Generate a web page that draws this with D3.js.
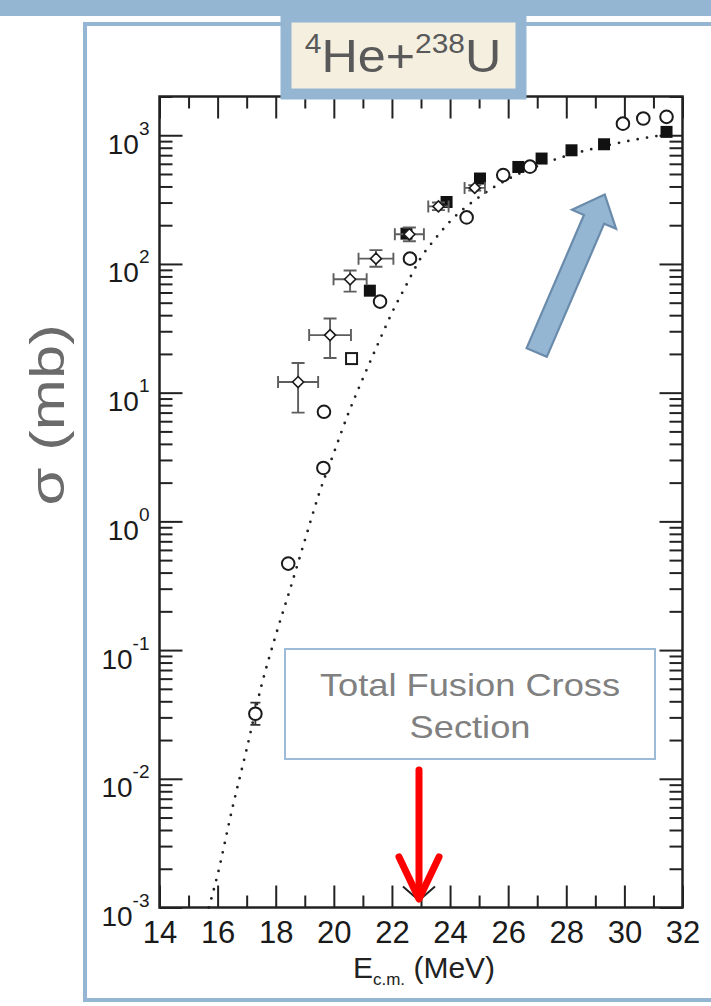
<!DOCTYPE html>
<html lang="en">
  <head>
    <title>4He+238U total fusion cross section</title>
    <meta charset="utf-8">
    <script src="https://cdn.jsdelivr.net/npm/d3@7"></script>
    <style>
      html, body { margin: 0; padding: 0; background: #fff; }
      svg text { font-family: "Liberation Sans", Arimo, Arial, Helvetica, sans-serif; }
    </style>
  </head>
  <body>
    <div id="main"></div>
    <script>
      // axis ticks
      var xTicks = [14, 16, 18, 20, 22, 24, 26, 28, 30, 32];
      var xMinorTicks = [15, 17, 19, 21, 23, 25, 27, 29, 31];
      var yExponents = [-3, -2, -1, 0, 1, 2, 3];

      // dotted theory curve (E in MeV, sigma in mb)
      var curveE = [15.7, 16.0, 16.5, 17.0, 17.5, 18.0, 18.5, 19.0, 19.5, 20.0, 20.5, 21.0, 21.5, 22.0, 22.5, 23.0, 23.5, 24.0, 25.0, 26.0, 27.0, 28.0, 29.0, 30.0, 31.0, 31.6];
      var curveSigma = [0.001, 0.0018, 0.0058, 0.017, 0.052, 0.13, 0.30, 0.71, 1.66, 3.4, 6.9, 12.9, 23.4, 41.7, 69, 112, 158, 214, 331, 457, 575, 692, 794, 891, 977, 1023];

      // open circles
      var circleE = [17.3, 18.43, 19.64, 19.66, 21.59, 22.62, 24.57, 25.83, 26.75, 29.95, 30.65, 31.45];
      var circleSigma = [0.032, 0.47, 2.6, 7.1, 51, 110, 230, 490, 570, 1230, 1350, 1390];

      // filled squares
      var squareE = [21.24, 22.5, 23.88, 25.03, 26.35, 27.15, 28.18, 29.3, 31.45];
      var squareSigma = [62, 172, 303, 461, 567, 659, 764, 851, 1062];

      // open squares
      var openSquareE = [20.61];
      var openSquareSigma = [18.4];

      // open diamonds with error bars
      var diamondE = [18.77, 19.87, 20.56, 21.45, 22.6, 23.6, 24.85];
      var diamondSigma = [12.1, 28, 76, 110, 170, 280, 390];
      var diamondErrE = [0.69, 0.72, 0.57, 0.6, 0.5, 0.35, 0.35];
      var diamondLow = [7.0, 18.6, 61, 95, 150, 262, 372];
      var diamondHigh = [17, 37.7, 89, 128, 192, 300, 410];

      var font = "'Liberation Sans', Arimo, Arial, Helvetica, sans-serif";
      var svg = d3.select("#main").append("svg")
        .attr("width", 711)
        .attr("height", 1006)
        .attr("font-family", font);

      // slide decoration
      svg.append("rect").attr("x", 0).attr("y", 0).attr("width", 711).attr("height", 16).attr("fill", "#94b6d2");
      svg.append("rect").attr("x", 85).attr("y", 24).attr("width", 660).attr("height", 976)
        .attr("fill", "none").attr("stroke", "#94b6d2").attr("stroke-width", 4);

      var x = d3.scaleLinear().domain([14, 32]).range([159.5, 682.5]);
      var y = d3.scaleLog().domain([1e-3, 2e3]).range([907.5, 96.5]);

      var plot = svg.append("g");
      var yMinor = y.ticks().filter(function(d) { return Math.abs(Math.log10(d) - Math.round(Math.log10(d))) > 1e-6; });
      var yMajor = yExponents.map(function(e) { return Math.pow(10, e); });

      function styleAxis(g) {
        g.select(".domain").remove();
        g.selectAll(".tick line").attr("stroke", "#222").attr("stroke-width", 2);
        g.attr("font-family", font).attr("font-size", null);
      }

      plot.append("g").attr("transform", "translate(0,907.5)")
        .call(d3.axisBottom(x).tickValues(xTicks).tickSize(-22).tickPadding(13))
        .call(styleAxis)
        .selectAll(".tick text").attr("font-size", 31).attr("fill", "#1a1a1a");
      plot.append("g").attr("transform", "translate(0,907.5)")
        .call(d3.axisBottom(x).tickValues(xMinorTicks).tickSize(-12).tickFormat(""))
        .call(styleAxis);
      plot.append("g").attr("transform", "translate(0,96.5)")
        .call(d3.axisTop(x).tickValues(xTicks).tickSize(-22).tickFormat(""))
        .call(styleAxis);
      plot.append("g").attr("transform", "translate(0,96.5)")
        .call(d3.axisTop(x).tickValues(xMinorTicks).tickSize(-12).tickFormat(""))
        .call(styleAxis);

      var yLeft = plot.append("g").attr("transform", "translate(159.5,0)")
        .call(d3.axisLeft(y).tickValues(yMajor).tickSize(-23).tickPadding(10))
        .call(styleAxis);
      plot.append("g").attr("transform", "translate(159.5,0)")
        .call(d3.axisLeft(y).tickValues(yMinor).tickSize(-13).tickFormat(""))
        .call(styleAxis);
      plot.append("g").attr("transform", "translate(682.5,0)")
        .call(d3.axisRight(y).tickValues(yMajor).tickSize(-23).tickFormat(""))
        .call(styleAxis);
      plot.append("g").attr("transform", "translate(682.5,0)")
        .call(d3.axisRight(y).tickValues(yMinor).tickSize(-13).tickFormat(""))
        .call(styleAxis);

      yLeft.selectAll(".tick text").each(function(d) {
        var t = d3.select(this);
        t.text(null).attr("dy", null).attr("y", 18).attr("font-size", 28).attr("fill", "#1a1a1a");
        t.append("tspan").text("10");
        t.append("tspan").attr("dy", -19).attr("font-size", 19).text(String(Math.round(Math.log10(d))));
      });

      plot.append("rect")
        .attr("x", x(14)).attr("y", y(2e3))
        .attr("width", x(32) - x(14)).attr("height", y(1e-3) - y(2e3))
        .attr("fill", "none").attr("stroke", "#222").attr("stroke-width", 2.5);

      // axis titles
      var xt = svg.append("text").attr("x", 424).attr("y", 978).attr("text-anchor", "middle")
        .attr("font-size", 30).attr("fill", "#222");
      xt.append("tspan").text("E");
      xt.append("tspan").attr("font-size", 17).attr("dy", 7).text("c.m.");
      xt.append("tspan").attr("dy", -7).text(" (MeV)");

      svg.append("text")
        .attr("transform", "translate(64,415) rotate(-90) scale(1.28,1)")
        .attr("text-anchor", "middle")
        .attr("font-size", 48).attr("fill", "#6b6b6b")
        .text("σ (mb)");

      // theory curve
      var curvePts = curveE.map(function(e, i) { return [e, curveSigma[i]]; });
      plot.append("path")
        .datum(curvePts)
        .attr("fill", "none").attr("stroke", "#222").attr("stroke-width", 2.8)
        .attr("stroke-linecap", "round").attr("stroke-dasharray", "0,9.5")
        .attr("d", d3.line().x(function(d) { return x(d[0]); }).y(function(d) { return y(d[1]); }).curve(d3.curveMonotoneX));

      // marker at the barrier
      plot.append("path")
        .attr("d", "M" + (x(22.93) - 16) + "," + (y(1e-3) - 21) + "L" + x(22.93) + "," + (y(1e-3) - 7) + "L" + (x(22.93) + 16) + "," + (y(1e-3) - 21))
        .attr("fill", "none").attr("stroke", "#222").attr("stroke-width", 2);

      // error bar on the lowest circle
      plot.append("g").selectAll("path").data([0]).enter().append("path")
        .attr("d", function(i) {
          var cx = x(circleE[i]), lo = y(circleSigma[i] * 0.82), hi = y(circleSigma[i] * 1.22);
          return "M" + cx + "," + lo + "V" + hi + "M" + (cx - 5) + "," + lo + "H" + (cx + 5) + "M" + (cx - 5) + "," + hi + "H" + (cx + 5);
        })
        .attr("stroke", "#333").attr("stroke-width", 1.8).attr("fill", "none");

      plot.append("g").selectAll("circle").data(circleE).enter().append("circle")
        .attr("cx", function(d) { return x(d); })
        .attr("cy", function(d, i) { return y(circleSigma[i]); })
        .attr("r", 6.3)
        .attr("fill", "#fff").attr("stroke", "#1a1a1a").attr("stroke-width", 2);

      plot.append("g").selectAll("rect").data(openSquareE).enter().append("rect")
        .attr("x", function(d) { return x(d) - 5.5; })
        .attr("y", function(d, i) { return y(openSquareSigma[i]) - 5.5; })
        .attr("width", 11).attr("height", 11)
        .attr("fill", "#fff").attr("stroke", "#1a1a1a").attr("stroke-width", 2);

      plot.append("g").selectAll("rect").data(squareE).enter().append("rect")
        .attr("x", function(d) { return x(d) - 6; })
        .attr("y", function(d, i) { return y(squareSigma[i]) - 6; })
        .attr("width", 12).attr("height", 12)
        .attr("fill", "#111");

      // diamonds with x and y error bars
      var dia = plot.append("g").selectAll("g").data(diamondE).enter().append("g");
      dia.append("path")
        .attr("d", function(d, i) {
          var cx = x(d), cy = y(diamondSigma[i]);
          var x0 = x(d - diamondErrE[i]), x1 = x(d + diamondErrE[i]);
          var y0 = y(diamondLow[i]), y1 = y(diamondHigh[i]);
          return "M" + x0 + "," + cy + "H" + x1 +
            "M" + x0 + "," + (cy - 6) + "V" + (cy + 6) +
            "M" + x1 + "," + (cy - 6) + "V" + (cy + 6) +
            "M" + cx + "," + y0 + "V" + y1 +
            "M" + (cx - 6.5) + "," + y0 + "H" + (cx + 6.5) +
            "M" + (cx - 6.5) + "," + y1 + "H" + (cx + 6.5);
        })
        .attr("fill", "none").attr("stroke", "#5e5e5e").attr("stroke-width", 1.9);
      dia.append("path")
        .attr("d", function(d, i) {
          var cx = x(d), cy = y(diamondSigma[i]);
          return "M" + cx + "," + (cy - 5.5) + "L" + (cx + 5.5) + "," + cy + "L" + cx + "," + (cy + 5.5) + "L" + (cx - 5.5) + "," + cy + "Z";
        })
        .attr("fill", "#fff").attr("stroke", "#1a1a1a").attr("stroke-width", 1.6);

      // title box
      svg.append("rect").attr("x", 286).attr("y", 17).attr("width", 235).attr("height", 77)
        .attr("fill", "#f5efe0").attr("stroke", "#94b6d2").attr("stroke-width", 11);
      var title = svg.append("text")
        .attr("transform", "translate(403,72) scale(1.07,1)")
        .attr("text-anchor", "middle").attr("font-size", 47).attr("fill", "#595959");
      title.append("tspan").attr("font-size", 28).attr("dy", -19).text("4");
      title.append("tspan").attr("dy", 19).text("He+");
      title.append("tspan").attr("font-size", 28).attr("dy", -19).text("238");
      title.append("tspan").attr("dy", 19).text("U");

      // annotation box
      svg.append("rect").attr("x", 285).attr("y", 649).attr("width", 370).attr("height", 110)
        .attr("fill", "#fff").attr("stroke", "#9dbbd6").attr("stroke-width", 2);
      svg.append("text").attr("transform", "translate(470,696) scale(1.17,1)")
        .attr("text-anchor", "middle").attr("font-size", 31).attr("fill", "#808080")
        .text("Total Fusion Cross");
      svg.append("text").attr("transform", "translate(470,738) scale(1.17,1)")
        .attr("text-anchor", "middle").attr("font-size", 31).attr("fill", "#808080")
        .text("Section");

      // red arrow
      var red = svg.append("g").attr("stroke", "#ff0000").attr("stroke-width", 7).attr("stroke-linecap", "round").attr("fill", "none");
      red.append("line").attr("x1", 419).attr("y1", 770).attr("x2", 419).attr("y2", 898);
      red.append("path").attr("d", "M399,857L419,899L439,857").attr("stroke-linejoin", "round");

      // blue block arrow
      var L = 172, shaft = 11, head = 24, headLen = 27;
      svg.append("path")
        .attr("transform", "translate(536.7,352.5) rotate(-66.7)")
        .attr("d", "M0," + (-shaft) + "L" + (L - headLen) + "," + (-shaft) + "L" + (L - headLen) + "," + (-head) +
          "L" + L + ",0L" + (L - headLen) + "," + head + "L" + (L - headLen) + "," + shaft + "L0," + shaft + "Z")
        .attr("fill", "#94b6d2").attr("stroke", "#6a8bab").attr("stroke-width", 2.2).attr("stroke-linejoin", "miter");
    </script>
  </body>
</html>
